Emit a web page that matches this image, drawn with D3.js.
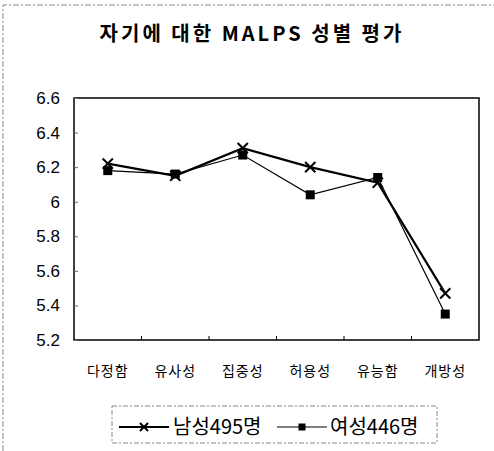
<!DOCTYPE html>
<html>
<head>
<meta charset="utf-8">
<script src="https://cdn.jsdelivr.net/npm/d3@7"></script>
<style>
  body { margin: 0; background: #fff; }
  svg { display: block; }
</style>
</head>
<body>
<div id="chart"></div>
<script>
const categories = ['다정함', '유사성', '집중성', '허용성', '유능함', '개방성'];
const maleValues = [6.22, 6.15, 6.31, 6.20, 6.11, 5.47];
const femaleValues = [6.18, 6.16, 6.27, 6.04, 6.14, 5.35];
const yTicks = [5.2, 5.4, 5.6, 5.8, 6, 6.2, 6.4, 6.6];
const seriesNames = ['남성495명', '여성446명'];

const width = 494, height = 451;
const margin = { top: 98, right: 15, bottom: 111, left: 74 };
const innerW = width - margin.left - margin.right;
const innerH = height - margin.top - margin.bottom;
const krFont = '"Noto Sans CJK KR", "Noto Sans", sans-serif';

const svg = d3.select('#chart').append('svg')
  .attr('width', width)
  .attr('height', height);

// outer frame (dashed, like a scanned border)
svg.append('path')
  .attr('d', `M3,${height} L3,5 L${width},5`)
  .attr('fill', 'none')
  .attr('stroke', '#888')
  .attr('stroke-width', 1)
  .attr('stroke-dasharray', '6,2,2,2');

svg.append('text')
  .attr('x', 252)
  .attr('y', 41)
  .attr('text-anchor', 'middle')
  .style('font-family', krFont)
  .style('font-weight', 'bold')
  .style('font-size', '20px')
  .style('letter-spacing', '3px')
  .text('자기에 대한 MALPS 성별 평가');

const g = svg.append('g').attr('transform', `translate(${margin.left},${margin.top})`);

const x = d3.scaleBand().domain(categories).range([0, innerW]);
const y = d3.scaleLinear().domain([5.2, 6.6]).range([innerH, 0]);

// plot frame
g.append('rect')
  .attr('width', innerW)
  .attr('height', innerH)
  .attr('fill', 'none')
  .attr('stroke', '#000')
  .attr('stroke-width', 1.5);

// y axis: ticks inside, labels outside
const yAxis = g.append('g')
  .call(d3.axisLeft(y).tickValues(yTicks).tickSize(-4).tickPadding(14)
    .tickFormat(d => d === 6 ? '6' : d3.format('.1f')(d)));
yAxis.select('.domain').remove();
yAxis.selectAll('line').attr('stroke', '#666');
yAxis.selectAll('text')
  .style('font-family', '"Liberation Sans", Arial, sans-serif')
  .style('font-size', '17px')
  .attr('fill', '#000');

// x axis: ticks at category boundaries, pointing up
const xAxis = g.append('g').attr('transform', `translate(0,${innerH})`);
xAxis.selectAll('line')
  .data(categories.slice(1))
  .enter().append('line')
  .attr('x1', d => x(d)).attr('x2', d => x(d))
  .attr('y1', 0).attr('y2', -4)
  .attr('stroke', '#000');
xAxis.selectAll('text')
  .data(categories)
  .enter().append('text')
  .attr('x', d => x(d) + x.bandwidth() / 2)
  .attr('y', 36)
  .attr('text-anchor', 'middle')
  .style('font-family', krFont)
  .style('font-size', '14px')
  .style('letter-spacing', '1px')
  .text(d => d);

const line = d3.line()
  .x((d, i) => x(categories[i]) + x.bandwidth() / 2)
  .y(d => y(d));

// female: thin line, square markers
g.append('path')
  .datum(femaleValues)
  .attr('d', line)
  .attr('fill', 'none')
  .attr('stroke', '#000')
  .attr('stroke-width', 1.2);
g.selectAll('.sq')
  .data(femaleValues)
  .enter().append('rect')
  .attr('x', (d, i) => x(categories[i]) + x.bandwidth() / 2 - 4.5)
  .attr('y', d => y(d) - 4.5)
  .attr('width', 9).attr('height', 9)
  .attr('fill', '#000');

// male: thick line, x markers
g.append('path')
  .datum(maleValues)
  .attr('d', line)
  .attr('fill', 'none')
  .attr('stroke', '#000')
  .attr('stroke-width', 2.2);
const cross = d3.symbol().type(d3.symbolX).size(70);
g.selectAll('.cx')
  .data(maleValues)
  .enter().append('path')
  .attr('d', cross)
  .attr('transform', (d, i) => `translate(${x(categories[i]) + x.bandwidth() / 2},${y(d)})`)
  .attr('fill', 'none')
  .attr('stroke', '#000')
  .attr('stroke-width', 2);

// legend
const lg = svg.append('g');
lg.append('rect')
  .attr('x', 112).attr('y', 406)
  .attr('width', 325).attr('height', 37)
  .attr('fill', 'none')
  .attr('stroke', '#888')
  .attr('stroke-dasharray', '5,2,2,2');

const legendItems = [
  { name: seriesNames[0], x0: 119, x1: 169, tx: 173, marker: 'x', sw: 2 },
  { name: seriesNames[1], x0: 277, x1: 327, tx: 330, marker: 'sq', sw: 1.2 }
];
legendItems.forEach(it => {
  const cx = (it.x0 + it.x1) / 2;
  lg.append('line')
    .attr('x1', it.x0).attr('x2', it.x1)
    .attr('y1', 427).attr('y2', 427)
    .attr('stroke', '#000').attr('stroke-width', it.sw);
  if (it.marker === 'x') {
    lg.append('path')
      .attr('d', d3.symbol().type(d3.symbolX).size(45))
      .attr('transform', `translate(${cx},427)`)
      .attr('stroke', '#000').attr('stroke-width', 2);
  } else {
    lg.append('rect')
      .attr('x', cx - 3.5).attr('y', 423.5)
      .attr('width', 7).attr('height', 7)
      .attr('fill', '#000');
  }
  lg.append('text')
    .attr('x', it.tx).attr('y', 434)
    .style('font-family', krFont)
    .style('font-size', '20px')
    .text(it.name);
});
</script>
</body>
</html>
